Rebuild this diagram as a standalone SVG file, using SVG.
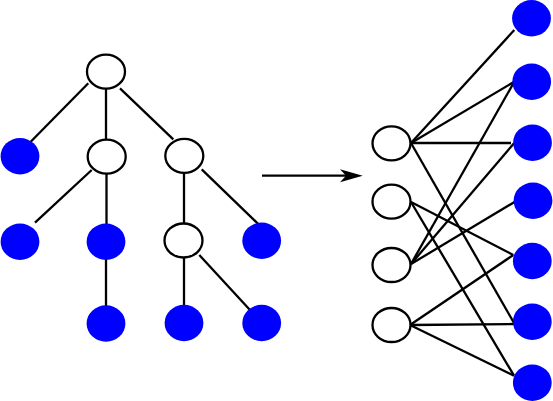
<svg xmlns="http://www.w3.org/2000/svg" width="553" height="401" viewBox="0 0 553 401">
  <style>
    .edge { stroke: #000; stroke-width: 2.3; fill: none; }
    .inner { fill: #fff; stroke: #000; stroke-width: 2.3; }
    .leaf { fill: #0000ff; stroke: none; }
  </style>
  <defs>
    <marker id="arrow" markerUnits="userSpaceOnUse" markerWidth="24" markerHeight="14" refX="6" refY="6.5" orient="auto">
      <path d="M0,0 L22.7,6.5 L0,13 L6,6.5 z" fill="#000"/>
    </marker>
  </defs>
  <rect width="553" height="401" fill="#fff"/>
  <g id="connectors">
    <line class="edge" x1="88.3" y1="83.3" x2="30.7" y2="141.7"/>
    <line class="edge" x1="106" y1="89" x2="106" y2="139"/>
    <line class="edge" x1="120" y1="88.3" x2="173.3" y2="139.3"/>
    <line class="edge" x1="91.7" y1="170" x2="35" y2="222.7"/>
    <line class="edge" x1="106.5" y1="174" x2="106.5" y2="224"/>
    <line class="edge" x1="184" y1="172" x2="184" y2="224"/>
    <line class="edge" x1="201.7" y1="169.3" x2="258.3" y2="224"/>
    <line class="edge" x1="106" y1="258" x2="106" y2="307"/>
    <line class="edge" x1="184" y1="257" x2="184" y2="307"/>
    <line class="edge" x1="199.3" y1="255" x2="250" y2="310"/>
    <line class="edge" x1="262" y1="175.7" x2="346" y2="175.7" marker-end="url(#arrow)"/>
    <line class="edge" x1="411" y1="143" x2="514.3" y2="30"/>
    <line class="edge" x1="411" y1="143" x2="514.3" y2="81.7"/>
    <line class="edge" x1="411" y1="143" x2="511" y2="143"/>
    <line class="edge" x1="411" y1="143" x2="514" y2="323"/>
    <line class="edge" x1="411" y1="202" x2="513.3" y2="255"/>
    <line class="edge" x1="411" y1="202" x2="514" y2="375.7"/>
    <line class="edge" x1="411" y1="264" x2="514.3" y2="81.7"/>
    <line class="edge" x1="411" y1="264" x2="514" y2="143.3"/>
    <line class="edge" x1="411" y1="264" x2="515" y2="201.7"/>
    <line class="edge" x1="410" y1="325" x2="513.3" y2="255"/>
    <line class="edge" x1="410" y1="325" x2="514" y2="324"/>
    <line class="edge" x1="410" y1="325" x2="514" y2="375.7"/>
  </g>
  <g id="tree-root"><ellipse class="inner" cx="106" cy="71.7" rx="19" ry="17"/></g>
  <g id="tree-l2a"><ellipse class="leaf" cx="20" cy="156.2" rx="19.4" ry="18.2"/></g>
  <g id="tree-l2b"><ellipse class="inner" cx="106.7" cy="156.7" rx="19" ry="17"/></g>
  <g id="tree-l2c"><ellipse class="inner" cx="184.3" cy="155.8" rx="19" ry="17"/></g>
  <g id="tree-l3a"><ellipse class="leaf" cx="20" cy="241.7" rx="19.4" ry="18.2"/></g>
  <g id="tree-l3b"><ellipse class="leaf" cx="106" cy="241.7" rx="19.4" ry="18.2"/></g>
  <g id="tree-l3c"><ellipse class="inner" cx="183.5" cy="240.5" rx="19" ry="17"/></g>
  <g id="tree-l3d"><ellipse class="leaf" cx="261.7" cy="240.7" rx="19.4" ry="18.2"/></g>
  <g id="tree-l4b"><ellipse class="leaf" cx="106" cy="323.5" rx="19.4" ry="18.2"/></g>
  <g id="tree-l4c"><ellipse class="leaf" cx="184" cy="323" rx="19.4" ry="18.2"/></g>
  <g id="tree-l4d"><ellipse class="leaf" cx="261.7" cy="323" rx="19.4" ry="18.2"/></g>
  <g id="bip-w1"><ellipse class="inner" cx="391.5" cy="143.3" rx="19" ry="17"/></g>
  <g id="bip-w2"><ellipse class="inner" cx="391.5" cy="201.7" rx="19" ry="17"/></g>
  <g id="bip-w3"><ellipse class="inner" cx="391.5" cy="265" rx="19" ry="17"/></g>
  <g id="bip-w4"><ellipse class="inner" cx="391.5" cy="325" rx="19" ry="17"/></g>
  <g id="bip-b1"><ellipse class="leaf" cx="531.5" cy="18.3" rx="19.4" ry="18.2"/></g>
  <g id="bip-b2"><ellipse class="leaf" cx="531.7" cy="81.7" rx="19.4" ry="18.2"/></g>
  <g id="bip-b3"><ellipse class="leaf" cx="532.5" cy="142.7" rx="19.4" ry="18.2"/></g>
  <g id="bip-b4"><ellipse class="leaf" cx="533" cy="200.7" rx="19.4" ry="18.2"/></g>
  <g id="bip-b5"><ellipse class="leaf" cx="532.3" cy="261" rx="19.4" ry="18.2"/></g>
  <g id="bip-b6"><ellipse class="leaf" cx="532.3" cy="321.7" rx="19.4" ry="18.2"/></g>
  <g id="bip-b7"><ellipse class="leaf" cx="532.3" cy="382.7" rx="19.4" ry="18.2"/></g>
</svg>
